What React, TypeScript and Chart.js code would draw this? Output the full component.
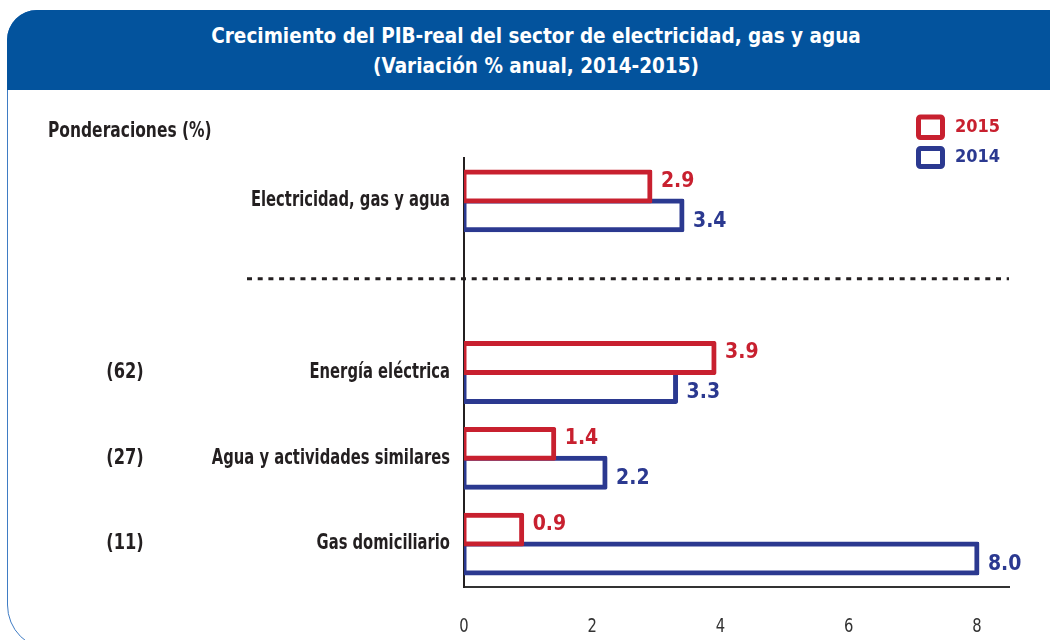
import React, { useEffect, useRef } from "react";
import { Chart, registerables } from "chart.js";

Chart.register(...registerables);

const categories = [
  "Electricidad, gas y agua",
  "",
  "Energía eléctrica",
  "Agua y actividades similares",
  "Gas domiciliario",
];
const weights = ["", "", "(62)", "(27)", "(11)"];
const values2015: (number | null)[] = [2.9, null, 3.9, 1.4, 0.9];
const values2014: (number | null)[] = [3.4, null, 3.3, 2.2, 8.0];
const seriesLabels = ["2015", "2014"];
const xTickValues = [0, 2, 4, 6, 8];
const titleLine1 = "Crecimiento del PIB-real del sector de electricidad, gas y agua";
const titleLine2 = "(Variación % anual, 2014-2015)";
const weightsTitle = "Ponderaciones (%)";

const RED = "#c8202f";
const BLUE = "#2b3990";
const TEXT = "#231f20";
const HEADER = "#03539d";
const FONT = '"DejaVu Sans Condensed", "DejaVu Sans", sans-serif';

function drawText(
  ctx: CanvasRenderingContext2D,
  text: string,
  x: number,
  y: number,
  font: string,
  color: string,
  align: CanvasTextAlign,
  sx: number
) {
  ctx.save();
  ctx.translate(x, y);
  ctx.scale(sx, 1);
  ctx.font = font;
  ctx.fillStyle = color;
  ctx.textAlign = align;
  ctx.textBaseline = "middle";
  ctx.fillText(text, 0, 0);
  ctx.restore();
}

const extrasPlugin = {
  id: "extras",
  afterDatasetsDraw(chart: any) {
    const { ctx, chartArea } = chart;
    const yScale = chart.scales.y;
    const xScale = chart.scales.x;
    ctx.save();

    // dashed separator between total and components
    const ySep = (yScale.getPixelForValue(0) + yScale.getPixelForValue(2)) / 2 - 8;
    ctx.beginPath();
    ctx.setLineDash([5, 5.7]);
    ctx.lineWidth = 3;
    ctx.strokeStyle = TEXT;
    ctx.moveTo(247, ySep);
    ctx.lineTo(chartArea.right, ySep);
    ctx.stroke();
    ctx.setLineDash([]);

    // category labels
    chart.data.labels.forEach((lab: string, i: number) => {
      if (!lab) return;
      drawText(ctx, lab, 450, yScale.getPixelForValue(i), `bold 20.5px ${FONT}`, TEXT, "right", 0.8);
    });

    // x tick labels
    xScale.ticks.forEach((t: any) => {
      drawText(ctx, String(t.value), xScale.getPixelForValue(t.value), 627, `20px ${FONT}`, "#333333", "center", 0.82);
    });

    // value labels
    chart.data.datasets.forEach((ds: any, di: number) => {
      const meta = chart.getDatasetMeta(di);
      meta.data.forEach((bar: any, i: number) => {
        const v = ds.data[i];
        if (v === null || v === undefined) return;
        drawText(
          ctx,
          Number(v).toFixed(1),
          bar.x + 11,
          bar.y + (di === 0 ? -5 : 6),
          `bold 21px ${FONT}`,
          ds.borderColor,
          "left",
          1
        );
      });
    });

    // weights
    weights.forEach((w, i) => {
      if (!w) return;
      drawText(ctx, w, 125, yScale.getPixelForValue(i), `bold 20.5px ${FONT}`, TEXT, "center", 0.88);
    });
    drawText(ctx, weightsTitle, 48, 132, `bold 20.5px ${FONT}`, TEXT, "left", 0.84);

    // legend
    chart.data.datasets.forEach((ds: any, di: number) => {
      const top = di === 0 ? 114.5 : 146;
      const h = di === 0 ? 25.5 : 23;
      ctx.lineWidth = 5;
      ctx.strokeStyle = ds.borderColor;
      ctx.beginPath();
      (ctx as any).roundRect(916 + 2.5, top + 2.5, 29 - 5, h - 5, 2);
      ctx.stroke();
      drawText(ctx, ds.label, 955, top + h / 2, `bold 18px ${FONT}`, ds.borderColor, "left", 1);
    });
    ctx.restore();
  },
};

function BarChart() {
  const ref = useRef<HTMLCanvasElement | null>(null);
  useEffect(() => {
    if (!ref.current) return;
    const barStyle = {
      backgroundColor: "rgba(255,255,255,1)",
      borderWidth: 5,
      borderSkipped: false,
      borderRadius: 2,
      inflateAmount: 2.5,
      categoryPercentage: 0.674,
      barPercentage: 1,
    };
    const chart = new Chart(ref.current, {
      type: "bar",
      data: {
        labels: categories,
        datasets: [
          { label: seriesLabels[0], data: values2015, borderColor: RED, ...barStyle },
          { label: seriesLabels[1], data: values2014, borderColor: BLUE, ...barStyle },
        ],
      },
      options: {
        indexAxis: "y",
        responsive: false,
        devicePixelRatio: 1,
        animation: false,
        layout: { padding: { left: 164, right: 41, top: 158, bottom: 0 } },
        plugins: {
          legend: { display: false },
          tooltip: { enabled: false },
          title: { display: false },
        },
        scales: {
          x: {
            type: "linear",
            min: 0,
            max: 8.5,
            afterFit: (s: any) => {
              s.height = 53;
            },
            afterBuildTicks: (s: any) => {
              s.ticks = xTickValues.map((v) => ({ value: v }));
            },
            ticks: { display: false },
            grid: { display: false, drawTicks: false },
            border: { display: true, color: "#333333", width: 2 },
          },
          y: {
            afterFit: (s: any) => {
              s.width = 300;
            },
            ticks: { display: false },
            grid: { display: false, drawTicks: false },
            border: { display: true, color: TEXT, width: 2 },
          },
        },
      },
      plugins: [extrasPlugin],
    } as any);
    return () => chart.destroy();
  }, []);
  return (
    <canvas
      ref={ref}
      width={1050}
      height={640}
      style={{ position: "absolute", left: 0, top: 0, width: 1050, height: 640 }}
    />
  );
}

export default function App() {
  return (
    <div
      style={{
        position: "fixed",
        left: 0,
        top: 0,
        width: 1050,
        height: 640,
        overflow: "hidden",
        background: "#ffffff",
      }}
    >
      <div
        style={{
          position: "absolute",
          left: 7,
          top: 10,
          width: 1058,
          height: 640,
          border: "1.5px solid #3f7cc4",
          borderTopLeftRadius: 30,
          borderBottomLeftRadius: 45,
          boxSizing: "border-box",
        }}
      />
      <div
        style={{
          position: "absolute",
          left: 7,
          top: 10,
          width: 1058,
          height: 80,
          background: HEADER,
          borderTopLeftRadius: 30,
          color: "#ffffff",
          fontFamily: FONT,
          fontWeight: "bold",
          fontSize: 20.5,
          lineHeight: "30px",
          textAlign: "center",
          paddingTop: 11,
          boxSizing: "border-box",
        }}
      >
        <div>{titleLine1}</div>
        <div>{titleLine2}</div>
      </div>
      <BarChart />
    </div>
  );
}
